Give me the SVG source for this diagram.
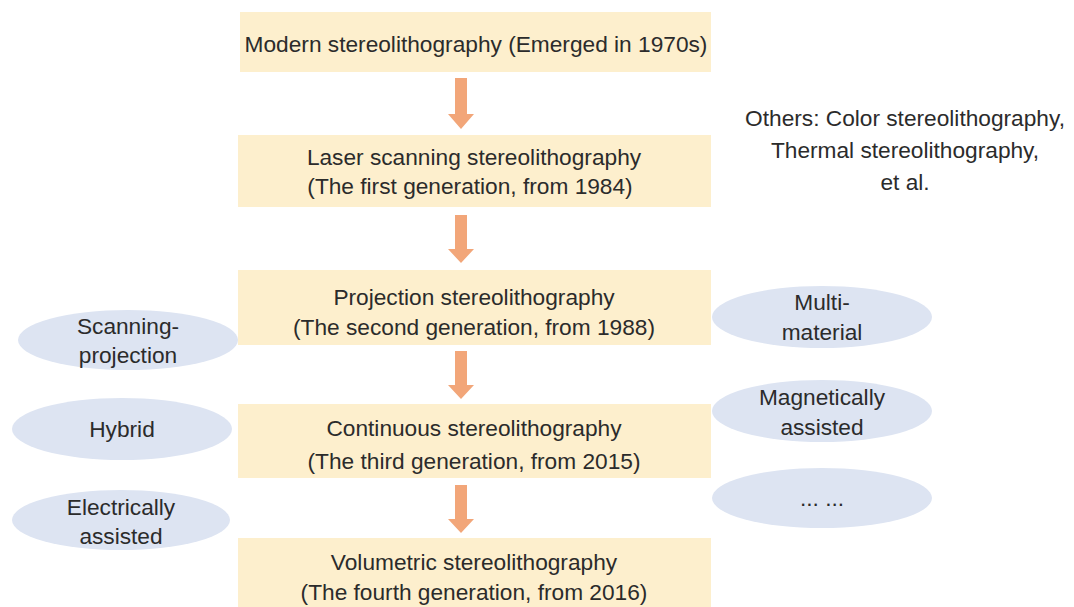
<svg xmlns="http://www.w3.org/2000/svg" width="1074" height="607" viewBox="0 0 1074 607">
<style>
.box{fill:#fdefcd}
.ell{fill:#dde4f2}
.t{font-family:"Liberation Sans",Arial,sans-serif;font-size:22.7px;fill:#2b2b2b;text-anchor:middle}
.arr{fill:#f2a679}
</style>
<rect width="1074" height="607" fill="#ffffff"/>
<g id="connectors">
<polygon class="arr" points="455,78 467,78 467,114 474,114 461,129 448,114 455,114"/>
<polygon class="arr" points="455,215 467,215 467,249 474,249 461,263 448,249 455,249"/>
<polygon class="arr" points="455,351 467,351 467,385 474,385 461,399 448,385 455,385"/>
<polygon class="arr" points="455,485 467,485 467,519 474,519 461,533 448,519 455,519"/>
</g>
<g id="n1"><rect class="box" x="240" y="12" width="471" height="60"/><text class="t" x="476" y="52">Modern stereolithography (Emerged in 1970s)</text></g>
<g id="n2"><rect class="box" x="238" y="135" width="473" height="72"/><text class="t" x="474" y="165">Laser scanning stereolithography</text><text class="t" x="470" y="194">(The first generation, from 1984)</text></g>
<g id="n3"><rect class="box" x="238" y="270" width="473" height="75"/><text class="t" x="474" y="305">Projection stereolithography</text><text class="t" x="474" y="335">(The second generation, from 1988)</text></g>
<g id="n4"><rect class="box" x="238" y="404" width="473" height="74"/><text class="t" x="474" y="436">Continuous stereolithography</text><text class="t" x="474" y="469">(The third generation, from 2015)</text></g>
<g id="n5"><rect class="box" x="238" y="538" width="473" height="69"/><text class="t" x="474" y="570">Volumetric stereolithography</text><text class="t" x="474" y="600">(The fourth generation, from 2016)</text></g>
<g id="others"><text class="t" x="905" y="126">Others: Color stereolithography,</text><text class="t" x="905" y="158">Thermal stereolithography,</text><text class="t" x="905" y="190">et al.</text></g>
<g id="e1"><ellipse class="ell" cx="128" cy="340" rx="110" ry="30"/><text class="t" x="128" y="334">Scanning-</text><text class="t" x="128" y="363">projection</text></g>
<g id="e2"><ellipse class="ell" cx="122" cy="429" rx="110" ry="31"/><text class="t" x="122" y="437">Hybrid</text></g>
<g id="e3"><ellipse class="ell" cx="121" cy="520" rx="109" ry="30"/><text class="t" x="121" y="515">Electrically</text><text class="t" x="121" y="544">assisted</text></g>
<g id="e4"><ellipse class="ell" cx="822" cy="317" rx="110" ry="31"/><text class="t" x="822" y="310">Multi-</text><text class="t" x="822" y="340">material</text></g>
<g id="e5"><ellipse class="ell" cx="822" cy="411" rx="110" ry="31"/><text class="t" x="822" y="405">Magnetically</text><text class="t" x="822" y="435">assisted</text></g>
<g id="e6"><ellipse class="ell" cx="822" cy="498" rx="110" ry="30"/><text class="t" x="822" y="506">... ...</text></g>
</svg>
